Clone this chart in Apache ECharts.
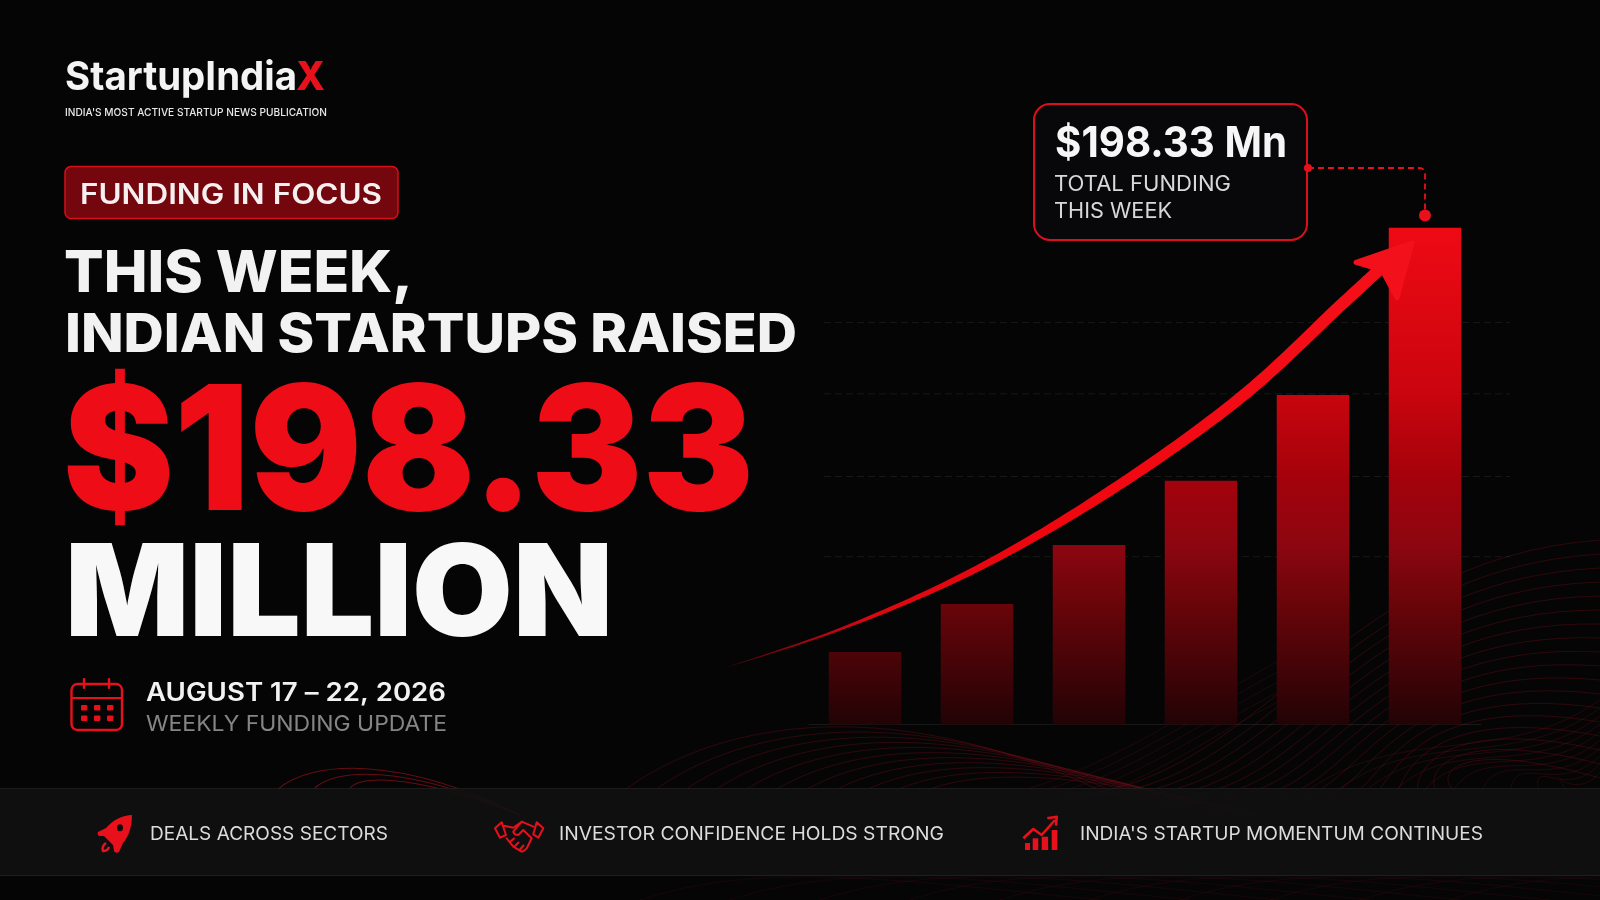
<!DOCTYPE html>
<html><head><meta charset="utf-8">
<style>html,body{margin:0;padding:0;background:#050506}#c{width:1600px;height:900px}</style>
<script src="https://cdn.jsdelivr.net/npm/echarts@6/dist/echarts.min.js"></script>
</head><body><div id="c"></div>
<script>
const categories = ['1','2','3','4','5','6'];
const funding = [28.9, 48.1, 71.7, 97.3, 131.5, 198.33];
const gridlineValues = [67, 99, 132, 160.5];
const arrowX = [-1.295,-0.196,0.997,2.188,3.348,4.241,4.607];
const arrowY = [22.0,38.5,62.1,93.3,130.3,167.1,182.2];
const arrowHalf = [0,1.4,3.3,5,5.8,6,6];
const arrowHeadX = [4.384,4.884,4.75,4.616];
const arrowHeadY = [184.5,192.2,170.3,181.4];

const RED='#e8101a';
const mc=document.createElement('canvas').getContext('2d');
function T(text,x,y,font,fill,w){
  mc.font=font;const m=mc.measureText(text).width;
  return {type:'text',x,y,z:10,scaleX:w?w/m:1,silent:true,style:{text,x:0,y:0,font,fill,verticalAlign:'middle',align:'left'}};
}
function R(x,y,w,h,r,st,z){return {type:'rect',z:z||1,silent:true,shape:{x,y,width:w,height:h,r},style:st};}
function C(cx,cy,r,fill,z){return {type:'circle',z:z||10,silent:true,shape:{cx,cy,r},style:{fill}};}

const els=[];
// decorative waves: s/c1/c2/e are the control points of the first curve, d* the step per curve
function wave(s,c1,c2,e,ds,dc1,dc2,de,n,color,lw){
  for(let i=0;i<n;i++){
    els.push({type:'bezierCurve',z:0,silent:true,shape:{
      x1:s[0]+ds[0]*i,y1:s[1]+ds[1]*i,cpx1:c1[0]+dc1[0]*i,cpy1:c1[1]+dc1[1]*i,
      cpx2:c2[0]+dc2[0]*i,cpy2:c2[1]+dc2[1]*i,x2:e[0]+de[0]*i,y2:e[1]+de[1]*i},
      style:{stroke:color,lineWidth:lw,fill:'none'}});
  }
}
const WC='rgba(135,16,26,0.36)';
wave([622,792],[720,718],[900,690],[1120,800],[30,0],[26,5],[18,8],[16,2],11,WC,0.9);
wave([1060,796],[1260,790],[1330,560],[1600,540],[24,0],[10,0],[6,10],[0,14],18,WC,0.9);
wave([1000,796],[1120,770],[1230,680],[1320,640],[22,0],[12,2],[8,4],[4,10],5,'rgba(135,16,26,0.24)',0.9);
wave([1300,796],[1400,720],[1500,770],[1600,700],[30,0],[16,4],[8,4],[0,8],10,'rgba(135,16,26,0.28)',0.9);
wave([640,900],[760,860],[900,880],[1100,900],[90,0],[90,0],[90,0],[90,0],10,'rgba(135,16,26,0.16)',0.9);
wave([277,790],[310,760],[400,755],[520,815],[36,0],[22,8],[4,8],[0,0],3,'rgba(165,18,28,0.6)',1.1);
// band
els.push(R(0,788,1600,88,0,{fill:'rgba(17,17,18,0.9)'},1));
els.push(R(0,788,1600,1,0,{fill:'rgba(255,255,255,0.05)'},1));
els.push(R(0,875,1600,1,0,{fill:'rgba(255,255,255,0.07)'},1));

// logo
els.push(T('StartupIndia',65,78,'700 40px Inter','#f4f4f4',232));
els.push(T('X',296,78,'800 40px Inter',RED,29));
els.push(T("INDIA'S MOST ACTIVE STARTUP NEWS PUBLICATION",65,112.5,'500 11px Inter','#e8e8e8',262));
// badge
els.push(R(65,166.5,333,52,6,{fill:'#74070d',stroke:'#d80e18',lineWidth:1.5},5));
els.push(T('FUNDING IN FOCUS',80,196,'600 28px Inter','#f6f0f0',302));
// headings
els.push(T('THIS WEEK,',64,275,'800 58px Inter','#f2f2f2',349));
els.push(T('INDIAN STARTUPS RAISED',65,336,'800 54px Inter','#f2f2f2',732));
els.push(T('$198.33',63,458,'900 173px Inter','#ee0c16',691));
els.push(T('MILLION',65,597.5,'900 128px Inter','#f8f8f8',548));
// date
els.push(R(71.5,684,50.5,46,6,{fill:'none',stroke:RED,lineWidth:2.4},10));
els.push(R(71.5,697,50.5,2,0,{fill:RED},10));
[84,109].forEach(x=>els.push(R(x-1.2,678,2.4,11,1,{fill:RED},10)));
[84,97,110].forEach(x=>[707.5,718].forEach(y=>els.push(R(x-3,y-2.5,6.4,5.5,1,{fill:RED},10))));
els.push(T('AUGUST 17 – 22, 2026',146,693.5,'600 25px Inter','#f2f2f2',300));
els.push(T('WEEKLY FUNDING UPDATE',146,724.5,'400 22px Inter','#858585',301));
// bottom band items
els.push(T('DEALS ACROSS SECTORS',150,834,'400 19px Inter','#dcdcdc',238));
els.push(T('INVESTOR CONFIDENCE HOLDS STRONG',559,834,'400 19px Inter','#dcdcdc',385));
els.push(T("INDIA'S STARTUP MOMENTUM CONTINUES",1080,834,'400 19px Inter','#dcdcdc',403));
// up chart bars
[[1025,843,5],[1032.7,838.3,5.6],[1041.7,836.7,6.4],[1051.7,830,5.6]].forEach(b=>els.push(R(b[0],b[1],b[2],850-b[1],0,{fill:RED},10)));
// callout
els.push(R(1034,104,273,136,16,{fill:'#08080a',stroke:'#dc101a',lineWidth:2},5));
els.push(T('$198.33 Mn',1055,144,'700 43px Inter','#f6f6f6',232));
els.push(T('TOTAL FUNDING',1054,185,'400 21.5px Inter','#d8d8d8',177));
els.push(T('THIS WEEK',1054,212,'400 21.5px Inter','#d8d8d8',118));
els.push(C(1308,168,4,RED));
els.push(C(1425,215.5,6,RED));

// icon and connector outlines
const hs={fill:'none',stroke:RED,lineWidth:2,lineJoin:'round',lineCap:'round'};
const iconPaths=[
 {d:'M132 815 C123 815 113 820 106 828 L98 832 C97 834 98 836 100 836 L104 836 L113 845 L114 851 C115 853 117 853 119 852 L123 843 C129 836 132 826 132 815 Z',s:{fill:RED}},
 {d:'M106 843 C103 845 102 848 103 851 C106 851 108 850 109 847',s:{fill:'none',stroke:RED,lineWidth:2.4}},
 {d:'M495 828.3 L501.7 822.3 L506 835 L500 837.7 Z M536.7 822.3 L543.3 828.3 L538.3 837.7 L533.3 834.3 Z',s:hs},
 {d:'M504 825.7 L513.3 827.7 L521.7 821.7 L533.3 826.7 M521.7 821.7 L513.3 831.7 Q514 835 518.3 835 L523.3 830 L531.7 838.3 M506.7 838.3 L513.3 846.7 L521.7 851.7 Q524.5 851 526.7 848.3 L531.7 838.3 M511 841 L514 838.5 M515 846 L518.5 842.5 M520 849.5 L523.5 845.5',s:hs},
 {d:'M1023.3 838.3 L1033.3 829 L1041.7 835 L1055 820 M1047.3 818.3 L1056.7 816.7 L1056 825.7',s:{fill:'none',stroke:RED,lineWidth:2.6,lineJoin:'round'}},
 {d:'M1308 168 L1419 168 Q1425 168 1425 174 L1425 212',s:{fill:'none',stroke:RED,lineWidth:1.8,lineDash:[6,4]}},
 {d:'M123 827.7 A3 3.5 0 1 1 117 827.7 A3 3.5 0 1 1 123 827.7 Z',s:{fill:'#0d0d0e'}}
];
function renderIcons(){
  return {type:'group',children:iconPaths.map(p=>({type:'path',shape:{pathData:p.d},style:Object.assign({},p.s)}))};
}

// data-driven series
const barGrad={type:'linear',global:true,x:0,y:228,x2:0,y2:725,colorStops:[
 {offset:0,color:'#ee0a14'},{offset:0.32,color:'#cc050e'},{offset:0.507,color:'#a3020b'},
 {offset:0.636,color:'#8d0610'},{offset:0.755,color:'#6a0509'},{offset:0.851,color:'#4d0408'},{offset:1,color:'#220305'}]};
const arrowGrad={type:'linear',global:true,x:720,y:0,x2:1400,y2:0,colorStops:[
 {offset:0,color:'#3a0205'},{offset:0.1,color:'#8a0610'},{offset:0.22,color:'#dc0710'},{offset:0.5,color:'#f0060f'},{offset:1,color:'#f4101a'}]};
function cr(a,b,c,d,t){return 0.5*((2*b)+(-a+c)*t+(2*a-5*b+4*c-d)*t*t+(-a+3*b-3*c+d)*t*t*t);}
function renderArrow(params,api){
  if(params.dataIndex!==0) return null;
  const pts=arrowX.map((x,i)=>api.coord([x,arrowY[i]]));
  const up=[],dn=[];const dense=[];
  for(let i=0;i<pts.length-1;i++){
    const p0=pts[Math.max(i-1,0)],p1=pts[i],p2=pts[i+1],p3=pts[Math.min(i+2,pts.length-1)];
    const h0=arrowHalf[i],h1=arrowHalf[i+1];
    for(let k=0;k<16;k++){const t=k/16;dense.push([cr(p0[0],p1[0],p2[0],p3[0],t),cr(p0[1],p1[1],p2[1],p3[1],t),h0+(h1-h0)*t]);}
  }
  const L=pts[pts.length-1];dense.push([L[0],L[1],arrowHalf[arrowHalf.length-1]]);
  dense.forEach((p,i)=>{const a=dense[Math.max(i-1,0)],b=dense[Math.min(i+1,dense.length-1)];
    let dx=b[0]-a[0],dy=b[1]-a[1];const l=Math.hypot(dx,dy)||1;dx/=l;dy/=l;
    up.push([p[0]+dy*p[2],p[1]-dx*p[2]]);dn.push([p[0]-dy*p[2],p[1]+dx*p[2]]);});
  const head=arrowHeadX.map((x,i)=>api.coord([x,arrowHeadY[i]]));
  return {type:'group',children:[
    {type:'polygon',shape:{points:up.concat(dn.reverse())},style:{fill:arrowGrad}},
    {type:'polygon',shape:{points:head},style:{fill:'#f2101a',stroke:'#f2101a',lineWidth:5,lineJoin:'round'}}
  ]};
}
const gridX0=-0.366,gridX1=5.76;
const option={
  backgroundColor:'#050506',animation:false,
  graphic:{elements:els},
  grid:[{left:809,width:672,top:223.5,height:501},{left:720,width:800,top:223.5,height:501}],
  xAxis:[
   {type:'category',data:categories,gridIndex:0,axisLabel:{show:false},axisTick:{show:false},axisLine:{show:true,lineStyle:{color:'rgba(255,255,255,0.08)'}},splitLine:{show:false}},
   {type:'value',gridIndex:1,min:-1.295,max:5.848,show:false,splitLine:{show:false}}
  ],
  yAxis:[
   {type:'value',gridIndex:0,min:0,max:200,show:false,splitLine:{show:false}},
   {type:'value',gridIndex:1,min:0,max:200,show:false,splitLine:{show:false}}
  ],
  series:[
   ...gridlineValues.map(v=>({type:'line',xAxisIndex:1,yAxisIndex:1,z:1,silent:true,showSymbol:false,data:[[gridX0,v],[gridX1,v]],lineStyle:{color:'rgba(255,255,255,0.08)',width:1,type:[7,4]}})),
   {type:'bar',name:'Funding',xAxisIndex:0,yAxisIndex:0,data:funding,barWidth:72.5,z:3,silent:true,itemStyle:{color:barGrad}},
   {type:'custom',xAxisIndex:1,yAxisIndex:1,z:6,silent:true,clip:false,renderItem:renderArrow,data:arrowX.map((x,i)=>[x,arrowY[i]])},
   {type:'custom',coordinateSystem:'none',z:11,silent:true,renderItem:renderIcons,data:[0]}
  ]
};
echarts.init(document.getElementById('c')).setOption(option);
</script></body></html>
